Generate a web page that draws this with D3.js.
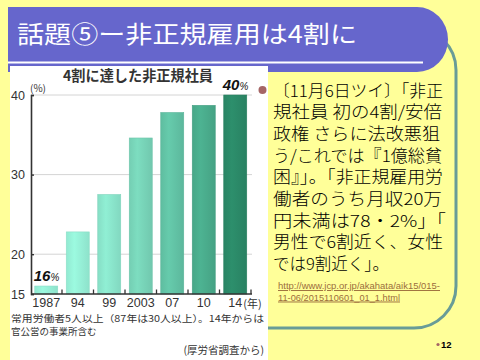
<!DOCTYPE html>
<html>
<head>
<meta charset="utf-8">
<script src="https://cdn.jsdelivr.net/npm/d3@7"></script>
<style>
body { margin: 0; background: #FFFF99; }
svg { display: block; }
</style>
</head>
<body>
<div id="slide"></div>
<script>
"use strict";

// chart data
var years = ["1987", "94", "99", "2003", "07", "10", "14"];
var shares = [16, 22.8, 27.5, 34.6, 37.8, 38.7, 40];
var yTicks = [15, 20, 30, 40];
var callouts = [{ year: "1987", label: "16" }, { year: "14", label: "40" }];

// slide text
var slideTitle = "話題⑤ー非正規雇用は4割に";
var chartTitle = "4割に達した非正規社員";
var bodyLines = [
    "〔11月6日ツイ〕「非正",
    "規社員 初の4割/安倍",
    "政権 さらに法改悪狙",
    "う/これでは『1億総貧",
    "困』」。「非正規雇用労",
    "働者のうち月収20万",
    "円未満は78・2%」「",
    "男性で6割近く、女性",
    "では9割近く」。"
];
var bodyWidths = [170, 169, 167, 169, 170, 169, 173, 170, 116];
var urlLines = ["http://www.jcp.or.jp/akahata/aik15/015-", "11-06/2015110601_01_1.html"];
var noteLines = ["常用労働者5人以上（87年は30人以上）。14年からは", "官公営の事業所含む"];
var sourceNote = "(厚労省調査から)";
var pageNo = "12";

var W = 480, H = 360;
var JP = "'Noto Sans CJK JP', 'DejaVu Sans', sans-serif";

var svg = d3.select("#slide")
    .append("svg")
    .attr("width", W)
    .attr("height", H);

svg.append("rect")
    .attr("width", W)
    .attr("height", H)
    .attr("fill", "#FFFF99");

// green rounded frame (mostly hidden behind header and chart)
svg.append("rect")
    .attr("x", 190)
    .attr("y", 28)
    .attr("width", 266)
    .attr("height", 300)
    .attr("rx", 42)
    .attr("fill", "none")
    .attr("stroke", "#699C97")
    .attr("stroke-width", 3);

// header
svg.append("path")
    .attr("d", "M8,7 H417 A31,32.5 0 0 1 417,72 H8 Z")
    .attr("fill", "#6666CC");

svg.append("rect")
    .attr("x", 8)
    .attr("y", 61.5)
    .attr("width", 415)
    .attr("height", 2)
    .attr("fill", "#ffffff");

svg.append("text")
    .attr("x", 17)
    .attr("y", 43)
    .attr("font-family", JP)
    .attr("font-size", 24)
    .attr("fill", "#ffffff")
    .attr("textLength", 340)
    .attr("lengthAdjust", "spacingAndGlyphs")
    .text(slideTitle);

// chart panel
svg.append("rect")
    .attr("x", 10)
    .attr("y", 66)
    .attr("width", 258)
    .attr("height", 294)
    .attr("fill", "#ffffff");

// right hand text
svg.append("circle")
    .attr("cx", 262.5)
    .attr("cy", 90)
    .attr("r", 4)
    .attr("fill", "#A56565");

svg.selectAll("text.body")
    .data(bodyLines)
    .enter()
    .append("text")
    .attr("class", "body")
    .attr("x", 273)
    .attr("y", function(d, i) { return 96.5 + i * 21.7; })
    .attr("font-family", JP)
    .attr("font-size", 16.5)
    .attr("font-weight", 300)
    .attr("fill", "#000000")
    .attr("textLength", function(d, i) { return bodyWidths[i]; })
    .attr("lengthAdjust", "spacingAndGlyphs")
    .text(function(d) { return d; });

svg.selectAll("text.url")
    .data(urlLines)
    .enter()
    .append("text")
    .attr("class", "url")
    .attr("x", 278)
    .attr("y", function(d, i) { return 289 + i * 11.5; })
    .attr("font-family", "'Liberation Sans', Arial, sans-serif")
    .attr("font-size", 9.5)
    .attr("fill", "#9C6E3C")
    .attr("text-decoration", "underline")
    .attr("textLength", function(d, i) { return i === 0 ? 162 : 122; })
    .attr("lengthAdjust", "spacingAndGlyphs")
    .text(function(d) { return d; });

svg.append("circle")
    .attr("cx", 438)
    .attr("cy", 344.5)
    .attr("r", 1.6)
    .attr("fill", "#A56565");

svg.append("text")
    .attr("x", 441)
    .attr("y", 347.5)
    .attr("font-family", "'Liberation Sans', Arial, sans-serif")
    .attr("font-size", 9.5)
    .attr("font-weight", "bold")
    .attr("fill", "#000000")
    .text(pageNo);

var xScale = d3.scaleBand()
    .domain(years)
    .range([30.5, 251])
    .paddingInner(0.27)
    .paddingOuter(0.135);

var yScale = d3.scaleLinear()
    .domain([15, 40])
    .range([294, 95]);

var barColors = d3.scaleOrdinal()
    .domain(years)
    .range(["#97F2D9", "#98F3DA", "#8CE8CE", "#79D7BB", "#63C5A7", "#4BAE8E", "#2C8B69"]);

var gChart = svg.append("g").attr("id", "bar_chart");

gChart.append("text")
    .attr("x", 138)
    .attr("y", 80.5)
    .attr("text-anchor", "middle")
    .attr("font-family", JP)
    .attr("font-size", 14.5)
    .attr("font-weight", "bold")
    .attr("fill", "#333333")
    .attr("textLength", 150)
    .attr("lengthAdjust", "spacingAndGlyphs")
    .text(chartTitle);

// gridlines
gChart.selectAll("line.grid")
    .data(yTicks.filter(function(d) { return d > 15; }))
    .enter()
    .append("line")
    .attr("class", "grid")
    .attr("x1", 31)
    .attr("x2", 252)
    .attr("y1", function(d) { return yScale(d); })
    .attr("y2", function(d) { return yScale(d); })
    .attr("stroke", "#D4D4D4")
    .attr("stroke-width", 1);

// bar gradients
var defs = svg.append("defs");
years.forEach(function(y, i) {
    var base = d3.color(barColors(y));
    var grad = defs.append("linearGradient")
        .attr("id", "barGrad" + i)
        .attr("x1", "0%").attr("x2", "100%");
    grad.append("stop").attr("offset", "0%").attr("stop-color", base.darker(0.12).formatHex());
    grad.append("stop").attr("offset", "35%").attr("stop-color", base.brighter(0.08).formatHex());
    grad.append("stop").attr("offset", "100%").attr("stop-color", base.darker(0.2).formatHex());
});

gChart.selectAll("rect.bar")
    .data(shares)
    .enter()
    .append("rect")
    .attr("class", "bar")
    .attr("x", function(d, i) { return xScale(years[i]); })
    .attr("y", function(d) { return yScale(d); })
    .attr("width", xScale.bandwidth())
    .attr("height", function(d) { return yScale(15) - yScale(d); })
    .attr("fill", function(d, i) { return "url(#barGrad" + i + ")"; })
    .attr("stroke", function(d, i) { return d3.color(barColors(years[i])).darker(0.25).formatHex(); })
    .attr("stroke-width", 0.6);

// axes
var yAxis = d3.axisLeft(yScale)
    .tickValues(yTicks)
    .tickSize(-3)
    .tickPadding(6);

var gY = gChart.append("g")
    .attr("transform", "translate(31,0)")
    .call(yAxis);

gY.select(".domain").attr("stroke", "#333333").attr("stroke-width", 1.6);
gY.selectAll(".tick line").attr("stroke", "#333333").attr("stroke-width", 1.4);
gY.selectAll(".tick text")
    .attr("font-family", "'Liberation Sans', Arial, sans-serif")
    .attr("font-size", 12.5)
    .attr("fill", "#333333")
    .attr("dy", "0.35em");

gChart.append("text")
    .attr("x", 30)
    .attr("y", 92)
    .attr("font-family", JP)
    .attr("font-size", 10)
    .attr("fill", "#333333")
    .text("(%)");

var xAxis = d3.axisBottom(xScale)
    .tickSize(0)
    .tickPadding(4.5);

var gX = gChart.append("g")
    .attr("transform", "translate(0,294)")
    .call(xAxis);

gX.select(".domain").remove();
gX.selectAll(".tick text")
    .attr("font-family", "'Liberation Sans', Arial, sans-serif")
    .attr("font-size", 12.5)
    .attr("fill", "#333333");

gChart.append("line")
    .attr("x1", 31)
    .attr("x2", 252)
    .attr("y1", 294)
    .attr("y2", 294)
    .attr("stroke", "#333333")
    .attr("stroke-width", 1.6);

// small ticks at band edges
var step = xScale.step();
gChart.selectAll("line.xtick")
    .data(years)
    .enter()
    .append("line")
    .attr("class", "xtick")
    .attr("x1", function(d) { return xScale(d) + xScale.bandwidth() + (step - xScale.bandwidth()) / 2; })
    .attr("x2", function(d) { return xScale(d) + xScale.bandwidth() + (step - xScale.bandwidth()) / 2; })
    .attr("y1", 294)
    .attr("y2", 289.5)
    .attr("stroke", "#333333")
    .attr("stroke-width", 1.3);

var lastYear = years[years.length - 1];
gChart.append("text")
    .attr("x", xScale(lastYear) + xScale.bandwidth() / 2 + 8)
    .attr("y", 308)
    .attr("font-family", JP)
    .attr("font-size", 11)
    .attr("fill", "#333333")
    .text("(年)");

// value callouts
callouts.forEach(function(c) {
    var i = years.indexOf(c.year);
    var t = gChart.append("text")
        .attr("x", xScale(c.year) - 1)
        .attr("y", yScale(shares[i]) - 5)
        .attr("font-family", "'Liberation Sans', Arial, sans-serif")
        .attr("font-style", "italic")
        .attr("font-weight", "bold")
        .attr("font-size", 15)
        .attr("fill", "#111111");
    t.append("tspan").text(c.label);
    t.append("tspan")
        .attr("font-size", 10)
        .attr("font-weight", "normal")
        .text("%");
});

// notes below chart
gChart.selectAll("text.note")
    .data(noteLines)
    .enter()
    .append("text")
    .attr("class", "note")
    .attr("x", 11)
    .attr("y", function(d, i) { return 321.5 + i * 13.8; })
    .attr("font-family", JP)
    .attr("font-size", 9.5)
    .attr("fill", "#333333")
    .attr("textLength", function(d, i) { return i === 0 ? 253 : null; })
    .attr("lengthAdjust", "spacingAndGlyphs")
    .text(function(d) { return d; });

gChart.append("text")
    .attr("x", 264)
    .attr("y", 354)
    .attr("text-anchor", "end")
    .attr("font-family", JP)
    .attr("font-size", 10.5)
    .attr("fill", "#333333")
    .text(sourceNote);
</script>
</body>
</html>
